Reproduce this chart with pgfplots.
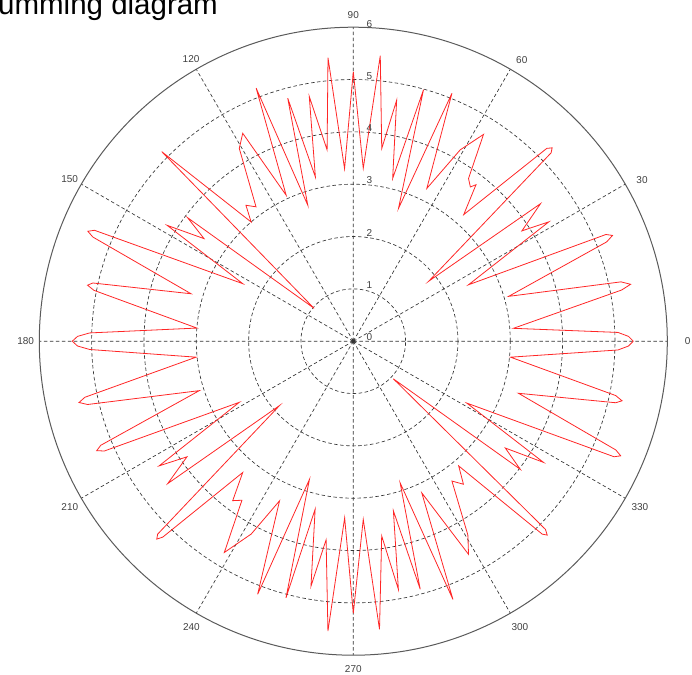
\documentclass[border=0pt]{standalone}
\usepackage{fontspec}
\setmainfont{Liberation Sans}
\usepackage{pgfplots}
\pgfplotsset{compat=1.18}
\usepgfplotslibrary{polar}
\definecolor{gridc}{HTML}{333333}
\definecolor{outerc}{HTML}{5A5A5A}
\definecolor{labc}{HTML}{404040}
\begin{document}
\begin{tikzpicture}
\begin{polaraxis}[
  at={(0,0)}, anchor=center,
  width=628bp, height=628bp, scale only axis,
  xmin=0, xmax=360, ymin=0, ymax=6,
  xtick={0,30,...,330}, ytick={1,2,3,4,5},
  xticklabel={\mbox{}}, yticklabel={\mbox{}},
  major tick length=0pt, tick style={draw=none},
  grid=major,
  major grid style={draw=gridc, line width=0.65bp, dash pattern=on 3.5bp off 2.5bp},
  axis line style={draw=outerc, line width=1bp},
  y axis line style={draw=none},
  clip=false,
]
\addplot[red!85!white, line width=0.8bp, no markers] table {
a r
0 5.35
1.0 5.26
1.9 5.06
4.6 3.07
10.8 5.22
11.6 5.41
12.5 5.24
16.1 3.09
21.4 5.20
22.2 5.35
22.9 5.24
26.1 2.45
31.4 4.38
33.2 3.85
36.3 4.44
38.5 1.84
43.6 5.22
44.2 5.30
44.9 5.22
48.9 3.21
51.9 3.80
52.8 3.70
54.7 3.81
57.8 4.67
60.8 4.19
64.3 3.24
68.3 5.10
71.2 2.68
74.4 4.99
76.4 3.20
79.8 4.68
81.6 3.72
84.6 5.48
86.7 3.31
90.0 5.15
92.9 3.30
95.1 5.44
97.8 3.69
100.2 4.75
103.0 3.22
105.1 4.81
108.5 2.74
111.0 5.18
114.7 3.07
118.0 4.50
120.6 4.28
125.9 3.17
128.3 3.31
130.6 3.00
135.3 5.15
140.0 0.98
143.3 3.95
145.5 3.46
148.1 4.19
152.5 2.38
156.8 5.38
157.5 5.49
158.2 5.36
163.7 3.23
167.4 5.10
168.1 5.19
168.9 5.05
175.2 3.00
178.2 5.04
179.0 5.27
180.0 5.37
181.0 5.27
181.8 5.04
185.8 3.02
191.8 5.24
192.6 5.37
193.4 5.22
197.8 3.09
202.4 5.22
203.1 5.33
203.8 5.20
208.2 2.47
212.7 4.41
214.8 3.87
217.5 4.47
221.1 1.87
224.6 5.25
225.2 5.33
225.8 5.22
229.9 3.28
232.9 3.82
235.0 3.71
238.6 4.73
242.1 4.17
245.2 3.36
249.3 5.17
252.4 2.77
255.3 5.07
257.2 3.29
260.2 4.75
262.2 3.83
265.0 5.56
267.2 3.38
270.0 5.20
273.2 3.41
275.2 5.53
278.3 3.76
280.3 4.82
283.3 3.33
285.1 4.91
288.3 2.85
291.1 5.29
294.3 3.18
298.4 4.63
300.6 4.30
305.2 3.27
307.6 3.45
310.2 3.12
314.4 5.16
315.0 5.24
315.6 5.14
316.8 1.05
322.5 4.02
324.9 3.55
327.5 4.31
331.4 2.47
336.1 5.45
336.8 5.56
337.5 5.43
342.5 3.31
346.8 5.15
347.5 5.26
348.3 5.12
354.2 3.02
358.1 5.06
359.0 5.26
360.0 5.35
};
\begin{scope}[every node/.style={font=\fontsize{10bp}{12bp}\selectfont, text=labc, inner sep=0pt}]
% angle labels
\node at (axis cs:0,6.39) {0};
\node at (axis cs:29.2,6.32) {30};
\node at (axis cs:59.1,6.27) {60};
\node at (axis cs:90,6.23) {90};
\node at (axis cs:119.9,6.22) {120};
\node at (axis cs:150.3,6.24) {150};
\node at (axis cs:180,6.26) {180};
\node at (axis cs:210.4,6.28) {210};
\node at (axis cs:240.5,6.28) {240};
\node at (axis cs:270,6.27) {270};
\node at (axis cs:300.2,6.33) {300};
\node at (axis cs:329.9,6.33) {330};
% radial labels
\node[xshift=16bp, yshift=4.5bp] at (axis cs:0,0) {0};
\node[xshift=16bp, yshift=4bp] at (axis cs:90,1) {1};
\node[xshift=16bp, yshift=4bp] at (axis cs:90,2) {2};
\node[xshift=16bp, yshift=4bp] at (axis cs:90,3) {3};
\node[xshift=16bp, yshift=4bp] at (axis cs:90,4) {4};
\node[xshift=16bp, yshift=3bp] at (axis cs:90,5) {5};
\node[xshift=16bp, yshift=3bp] at (axis cs:90,6) {6};
\end{scope}
\end{polaraxis}
\node[anchor=base west, inner sep=0pt, font=\fontsize{29.5bp}{34bp}\selectfont] at (-355.3bp,326.2bp) {umming diagram};
\pgfresetboundingbox
\useasboundingbox (-353.3bp,-333.8bp) rectangle (338.7bp,341.2bp);
\end{tikzpicture}
\end{document}
